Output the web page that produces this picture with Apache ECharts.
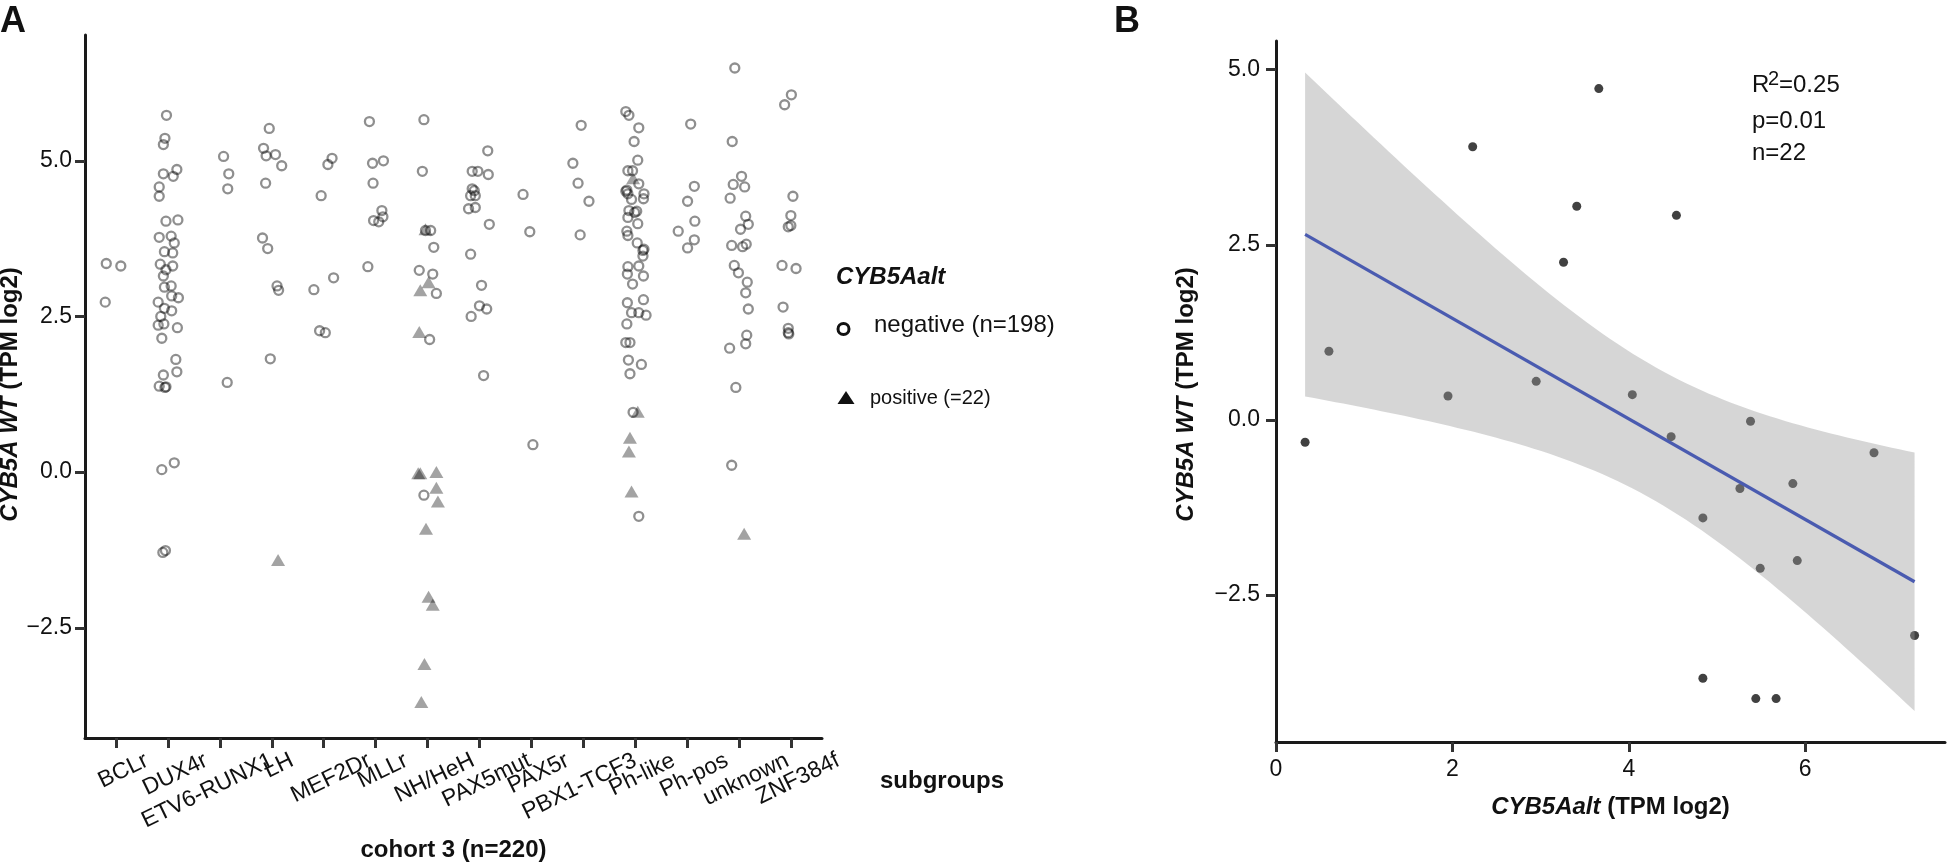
<!DOCTYPE html>
<html><head><meta charset="utf-8">
<script src="https://cdn.jsdelivr.net/npm/echarts@6/dist/echarts.min.js"></script>
<style>html,body{margin:0;padding:0;background:#fff}#c{width:1951px;height:868px}</style>
</head><body><div id="c"></div>
<script>
// ---------- Panel A data ----------
const categories = ['BCLr','DUX4r','ETV6-RUNX1','LH','MEF2Dr','MLLr','NH/HeH','PAX5mut','PAX5r','PBX1-TCF3','Ph-like','Ph-pos','unknown','ZNF384f'];
// each entry: [horizontal jitter (category units), CYB5A WT value]
const negBCLr = [[-0.19,3.35],[0.09,3.31],[-0.21,2.73]];
const negDUX4r = [[-0.03,5.73],[-0.06,5.36],[-0.09,5.26],[-0.09,4.79],[0.10,4.75],[0.17,4.86],[-0.17,4.58],[-0.17,4.43],[-0.04,4.03],[0.19,4.05],
  [-0.17,3.77],[0.06,3.79],[0.12,3.68],[-0.07,3.54],[0.09,3.52],[-0.15,3.34],[0.09,3.31],[-0.04,3.25],[-0.09,3.15],[-0.07,2.97],
  [0.06,2.99],[0.07,2.83],[0.20,2.80],[-0.19,2.73],[-0.07,2.63],[0.07,2.59],[-0.14,2.50],[-0.19,2.36],[-0.08,2.38],[0.18,2.32],
  [-0.12,2.15],[0.15,1.81],[0.17,1.61],[-0.09,1.56],[-0.17,1.38],[-0.04,1.37],[-0.06,1.36],[-0.12,0.04],[0.12,0.15],[-0.10,-1.29],[-0.05,-1.26]];
const negETV6 = [[0.07,5.07],[0.17,4.79],[0.15,4.55],[0.14,1.44]];
const negLH = [[-0.05,5.52],[-0.16,5.20],[-0.11,5.08],[0.07,5.10],[0.19,4.92],[-0.12,4.64],[-0.18,3.76],[-0.08,3.59],[0.10,2.99],[0.13,2.92],[-0.03,1.82]];
const negMEF2Dr = [[0.16,5.04],[0.08,4.94],[-0.05,4.44],[0.19,3.12],[-0.19,2.93],[-0.08,2.27],[0.03,2.24]];
const negMLLr = [[-0.12,5.63],[-0.06,4.96],[0.15,5.00],[-0.05,4.64],[0.12,4.20],[-0.04,4.04],[0.06,4.02],[0.14,4.10],[-0.15,3.30]];
const negNHHeH = [[-0.07,5.66],[-0.10,4.83],[-0.04,3.88],[0.06,3.88],[0.12,3.61],[-0.16,3.24],[0.10,3.18],[0.17,2.87],[0.04,2.13],[-0.07,-0.37]];
const negPAX5mut = [[0.16,5.16],[-0.14,4.83],[-0.03,4.83],[0.17,4.78],[-0.14,4.55],[-0.10,4.52],[-0.17,4.44],[-0.08,4.44],[-0.21,4.23],[-0.08,4.25],
  [0.19,3.98],[-0.17,3.50],[0.04,3.00],[0.00,2.67],[0.14,2.62],[-0.16,2.50],[0.08,1.55]];
const negPAX5r = [[-0.16,4.46],[-0.03,3.86],[0.03,0.44]];
const negPBX1 = [[-0.04,5.57],[-0.20,4.96],[-0.10,4.64],[0.11,4.35],[-0.06,3.81]];
const negPhLike = [[-0.18,5.79],[-0.12,5.73],[0.07,5.53],[-0.02,5.31],[0.05,5.01],[-0.14,4.84],[-0.05,4.84],[0.07,4.63],[-0.18,4.51],[-0.16,4.53],
  [-0.14,4.47],[0.17,4.47],[-0.07,4.38],[0.16,4.39],[-0.12,4.20],[-0.01,4.17],[0.03,4.19],[-0.14,4.09],[0.05,3.99],[-0.16,3.87],
  [-0.14,3.80],[0.04,3.68],[0.15,3.56],[0.17,3.58],[0.15,3.47],[-0.14,3.30],[0.07,3.31],[-0.15,3.18],[0.16,3.15],[-0.05,3.02],
  [-0.15,2.72],[0.16,2.77],[-0.07,2.56],[0.07,2.56],[0.21,2.52],[-0.16,2.38],[-0.18,2.08],[-0.10,2.08],[-0.13,1.80],[0.12,1.73],
  [-0.10,1.58],[-0.04,0.96],[0.07,-0.71]];
const negPhPos = [[0.07,5.59],[0.14,4.59],[0.01,4.35],[0.15,4.03],[-0.17,3.87],[0.14,3.73],[0.01,3.60]];
const negUnknown = [[-0.08,6.49],[-0.13,5.31],[0.05,4.75],[-0.11,4.62],[0.11,4.58],[-0.17,4.40],[0.13,4.11],[0.03,3.90],[0.18,3.98],[-0.14,3.64],
  [0.07,3.62],[0.14,3.66],[-0.09,3.32],[-0.01,3.20],[0.16,3.05],[0.13,2.88],[0.18,2.62],[0.15,2.20],[0.13,2.06],[-0.18,1.99],
  [-0.06,1.36],[-0.14,0.11]];
const negZNF384f = [[0.01,6.06],[-0.12,5.90],[0.04,4.43],[0.00,4.12],[-0.05,3.94],[0.00,3.96],[-0.17,3.32],[0.10,3.27],[-0.15,2.65],[-0.05,2.31],[-0.05,2.24],[-0.04,2.22]];
const negativeByCategory = [negBCLr,negDUX4r,negETV6,negLH,negMEF2Dr,negMLLr,negNHHeH,negPAX5mut,negPAX5r,negPBX1,negPhLike,negPhPos,negUnknown,negZNF384f];
// positive: [category, jitter, value]
const positivePoints = [
  ['LH',0.12,-1.41],
  ['NH/HeH',-0.04,3.90],['NH/HeH',0.02,3.05],['NH/HeH',-0.14,2.92],['NH/HeH',-0.16,2.25],['NH/HeH',-0.18,-0.02],['NH/HeH',-0.14,-0.02],
  ['NH/HeH',0.17,0.00],['NH/HeH',0.17,-0.25],['NH/HeH',0.20,-0.47],['NH/HeH',-0.03,-0.91],['NH/HeH',0.02,-2.00],['NH/HeH',0.10,-2.13],
  ['NH/HeH',-0.06,-3.08],['NH/HeH',-0.12,-3.69],
  ['Ph-like',-0.04,4.72],['Ph-like',0.05,0.97],['Ph-like',-0.10,0.55],['Ph-like',-0.12,0.33],['Ph-like',-0.07,-0.31],
  ['unknown',0.10,-0.99]
];
const yTicksA = [-2.5,0,2.5,5];

// ---------- Panel B data ----------
const altB = [2.23,3.41,3.26,0.60,1.95,2.95,0.33,3.66,4.54,4.04,5.38,4.48,6.78,5.86,5.26,4.84,5.91,5.49,7.24,4.84,5.44,5.67];
const wtB  = [3.90,3.05,2.25,0.98,0.34,0.55,-0.32,4.73,2.92,0.36,-0.02,-0.24,-0.47,-0.91,-0.98,-1.40,-2.01,-2.12,-3.08,-3.69,-3.98,-3.98];
const xTicksB = [0,2,4,6];
const yTicksB = [-2.5,0,2.5,5];
const statLines = ['p=0.01','n=22'];

// ---------- derived ----------
const FONT = "'Liberation Sans', Arial, Helvetica, sans-serif";
const A_MIN = 0.4, A_MAX = 14.6, A_YMIN = -4.27, A_YMAX = 7.02;
const negData = [];
negativeByCategory.forEach((arr,i)=>arr.forEach(([j,v])=>negData.push([i+1+j,v])));
const posData = positivePoints.map(([c,j,v])=>[categories.indexOf(c)+1+j,v]);
const bData = altB.map((x,i)=>[x,wtB[i]]);

// linear fit + 95% CI
const n = altB.length;
const mx = altB.reduce((a,b)=>a+b,0)/n, my = wtB.reduce((a,b)=>a+b,0)/n;
let sxx=0, sxy=0, syy=0;
for(let i=0;i<n;i++){const dx=altB[i]-mx, dy=wtB[i]-my; sxx+=dx*dx; sxy+=dx*dy; syy+=dy*dy;}
const slope = sxy/sxx, icpt = my - slope*mx;
const sres = Math.sqrt((syy - slope*sxy)/(n-2));
const tq = 2.086;
const xLo = Math.min(...altB), xHi = Math.max(...altB);
const bandUpper = [], bandLower = [];
for(let k=0;k<=80;k++){
  const x = xLo + (xHi-xLo)*k/80;
  const f = icpt + slope*x;
  const se = sres*Math.sqrt(1/n + (x-mx)*(x-mx)/sxx);
  bandUpper.push([x,f+tq*se]); bandLower.push([x,f-tq*se]);
}
const fitLine = [[xLo, icpt+slope*xLo],[xHi, icpt+slope*xHi]];

const fmtY = v => (v<0?'\u2212':'') + Math.abs(v).toFixed(1);
const axisLineStyle = {color:'#1a1a1a', width:3};
const tickStyle = {color:'#333', width:3};
const lbl = {fontSize:23, color:'#111', fontFamily:FONT};
const titleRich = {i:{fontSize:24, fontWeight:'bold', fontStyle:'italic', color:'#111', fontFamily:FONT},
                   b:{fontSize:24, fontWeight:'bold', color:'#111', fontFamily:FONT}};

const chart = echarts.init(document.getElementById('c'), null, {renderer:'canvas'});
chart.setOption({
  animation:false,
  backgroundColor:'#fff',
  grid:[
    {left:85, top:35, width:737, height:703, containLabel:false, outerBoundsMode:'none'},
    {left:1276, top:41, width:669, height:701, containLabel:false, outerBoundsMode:'none'}
  ],
  xAxis:[
    {type:'value', gridIndex:0, min:A_MIN, max:A_MAX,
      axisLine:{show:true, onZero:false, lineStyle:axisLineStyle},
      axisTick:{show:true, length:10, lineStyle:tickStyle, customValues:categories.map((_,i)=>i+1)},
      axisLabel:{show:false},
      splitLine:{show:false},
      name:'cohort 3 (n=220)', nameLocation:'middle', nameGap:100,
      nameTextStyle:{fontSize:24, fontWeight:'bold', color:'#111', fontFamily:FONT}
    },
    {type:'value', gridIndex:1, min:0, max:7.585,
      axisLine:{show:true, onZero:false, lineStyle:axisLineStyle},
      axisTick:{show:true, length:10, lineStyle:tickStyle, customValues:xTicksB},
      axisLabel:Object.assign({}, lbl, {margin:16, customValues:xTicksB, formatter:v=>String(v)}),
      splitLine:{show:false},
      name:'{i|CYB5Aalt} {b|(TPM log2)}', nameLocation:'middle', nameGap:53,
      nameTextStyle:{fontSize:24, fontWeight:'bold', color:'#111', fontFamily:FONT, rich:titleRich}
    }
  ],
  yAxis:[
    {type:'value', gridIndex:0, min:A_YMIN, max:A_YMAX,
      axisLine:{show:true, onZero:false, lineStyle:axisLineStyle},
      axisTick:{show:true, length:10, lineStyle:tickStyle, customValues:yTicksA},
      axisLabel:Object.assign({}, lbl, {margin:13, customValues:yTicksA, formatter:fmtY}),
      splitLine:{show:false},
      name:'{i|CYB5A WT} {b|(TPM log2)}', nameLocation:'middle', nameGap:50, nameRotate:90,
      nameTextStyle:{fontSize:24, fontWeight:'bold', color:'#111', fontFamily:FONT, padding:[0,16,0,0], rich:titleRich}
    },
    {type:'value', gridIndex:1, min:-4.6, max:5.41,
      axisLine:{show:true, onZero:false, lineStyle:axisLineStyle},
      axisTick:{show:true, length:10, lineStyle:tickStyle, customValues:yTicksB},
      axisLabel:Object.assign({}, lbl, {margin:16, customValues:yTicksB, formatter:fmtY}),
      splitLine:{show:false},
      name:'{i|CYB5A WT} {b|(TPM log2)}', nameLocation:'middle', nameGap:78, nameRotate:90,
      nameTextStyle:{fontSize:24, fontWeight:'bold', color:'#111', fontFamily:FONT, padding:[0,6,0,0], rich:titleRich}
    }
  ],
  series:[
    {type:'scatter', xAxisIndex:0, yAxisIndex:0, data:negData, symbol:'circle', symbolSize:9,
      itemStyle:{color:'rgba(0,0,0,0)', borderColor:'rgba(0,0,0,0.55)', borderWidth:2.3}, silent:true, z:2},
    {type:'scatter', xAxisIndex:0, yAxisIndex:0, data:posData, symbol:'triangle', symbolSize:[14,12],
      itemStyle:{color:'rgba(0,0,0,0.45)'}, silent:true, z:2},
    {type:'scatter', xAxisIndex:1, yAxisIndex:1, data:bData, symbol:'circle', symbolSize:9,
      itemStyle:{color:'#111'}, silent:true, z:2},
    {type:'custom', xAxisIndex:1, yAxisIndex:1, data:[[xLo,0]], silent:true, z:3, clip:false,
      renderItem:function(params, api){
        const pts = bandUpper.map(p=>api.coord(p)).concat(bandLower.slice().reverse().map(p=>api.coord(p)));
        return {type:'polygon', shape:{points:pts}, style:{fill:'rgba(153,153,153,0.4)'}};
      }},
    {type:'line', xAxisIndex:1, yAxisIndex:1, data:fitLine, showSymbol:false, silent:true, z:4,
      lineStyle:{color:'#4a5bb0', width:3.2}}
  ]
});

// Rotated category labels of panel A, anchored to the tick positions given by the axis scale.
const mctx = document.createElement('canvas').getContext('2d');
mctx.font = "23px " + FONT;
const axisY = chart.convertToPixel({yAxisIndex:0}, A_YMIN);
const LABEL_ANGLE = 26*Math.PI/180;
const catLabels = categories.map((c,i)=>{
  const tickX = chart.convertToPixel({xAxisIndex:0}, i+1);
  const L = mctx.measureText(c).width;
  const endOff = Math.min(0.45*L + 2, 47);
  return {type:'text', x:tickX + endOff, y:axisY + 11, rotation:LABEL_ANGLE, silent:true,
    style:{text:c, fontSize:23, fontFamily:FONT, fill:'#111', align:'right', verticalAlign:'top'}};
});

chart.setOption({
  graphic: catLabels.concat([
    {type:'text', x:0, y:4, style:{text:'A', fontSize:36, fontWeight:'bold', fontFamily:FONT, fill:'#111'}},
    {type:'text', x:1114, y:4, style:{text:'B', fontSize:36, fontWeight:'bold', fontFamily:FONT, fill:'#111'}},
    {type:'text', x:836, y:277, style:{text:'CYB5Aalt', fontSize:24, fontWeight:'bold', fontStyle:'italic', fontFamily:FONT, fill:'#111', verticalAlign:'middle'}},
    {type:'circle', shape:{cx:843.5, cy:329, r:5.5}, style:{fill:'none', stroke:'#111', lineWidth:3}},
    {type:'text', x:874, y:325, style:{text:'negative (n=198)', fontSize:24, fontFamily:FONT, fill:'#111', verticalAlign:'middle'}},
    {type:'polygon', shape:{points:[[846,391],[854.5,404],[837.5,404]]}, style:{fill:'#111'}},
    {type:'text', x:870, y:398, style:{text:'positive (=22)', fontSize:20, fontFamily:FONT, fill:'#111', verticalAlign:'middle'}},
    {type:'text', x:880, y:781, style:{text:'subgroups', fontSize:24, fontWeight:'bold', fontFamily:FONT, fill:'#111', verticalAlign:'middle'}},
    {type:'text', x:1752, y:85, style:{text:'R', fontSize:24, fontFamily:FONT, fill:'#111', verticalAlign:'middle'}},
    {type:'text', x:1768, y:79, style:{text:'2', fontSize:20, fontFamily:FONT, fill:'#111', verticalAlign:'middle'}},
    {type:'text', x:1779, y:85, style:{text:'=0.25', fontSize:24, fontFamily:FONT, fill:'#111', verticalAlign:'middle'}},
    {type:'text', x:1752, y:121, style:{text:statLines[0], fontSize:24, fontFamily:FONT, fill:'#111', verticalAlign:'middle'}},
    {type:'text', x:1752, y:153, style:{text:statLines[1], fontSize:24, fontFamily:FONT, fill:'#111', verticalAlign:'middle'}}
  ])
});
</script></body></html>
